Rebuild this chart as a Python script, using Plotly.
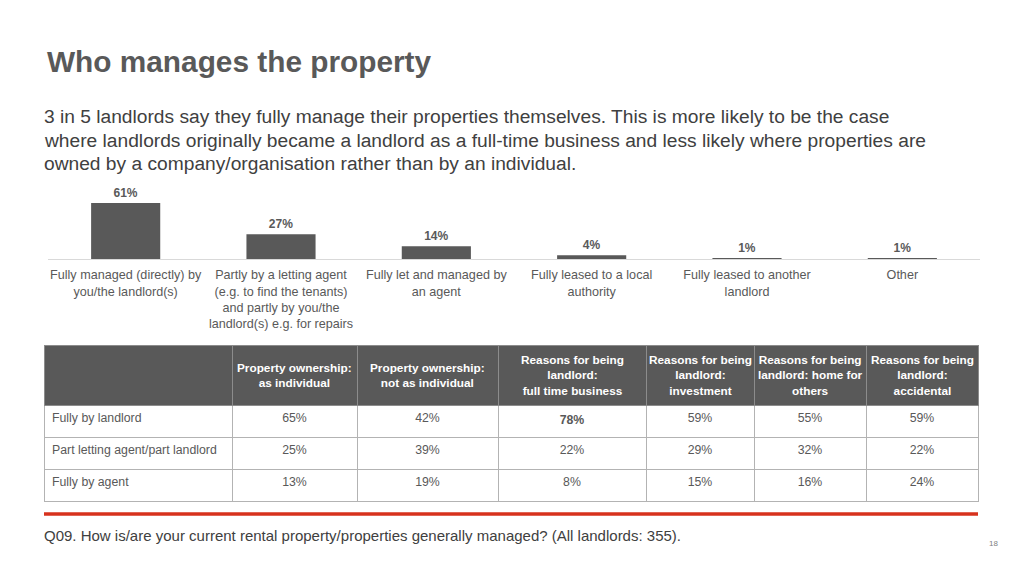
import plotly.graph_objects as go

# ---------------- data ----------------
categories = [
    "Fully managed (directly) by<br>you/the landlord(s)",
    "Partly by a letting agent<br>(e.g. to find the tenants)<br>and partly by you/the<br>landlord(s) e.g. for repairs",
    "Fully let and managed by<br>an agent",
    "Fully leased to a local<br>authority",
    "Fully leased to another<br>landlord",
    "Other",
]
values = [61, 27, 14, 4, 1, 1]

table_columns = [
    "",
    "Property ownership:<br>as individual",
    "Property ownership:<br>not as individual",
    "Reasons for being<br>landlord:<br>full time business",
    "Reasons for being<br>landlord:<br>investment",
    "Reasons for being<br>landlord: home for<br>others",
    "Reasons for being<br>landlord:<br>accidental",
]
table_rows = ["Fully by landlord", "Part letting agent/part landlord", "Fully by agent"]
own_individual = [65, 25, 13]
own_not_individual = [42, 39, 19]
reason_full_time = [78, 22, 8]
reason_investment = [59, 29, 15]
reason_home_others = [55, 32, 16]
reason_accidental = [59, 22, 24]
highlight = (3, 0)  # (column index, row index) shown in bold

title = "Who manages the property"
subtitle_lines = [
    "3 in 5 landlords say they fully manage their properties themselves. This is more likely to be the case",
    "where landlords originally became a landlord as a full-time business and less likely where properties are",
    "owned by a company/organisation rather than by an individual.",
]
footnote = "Q09. How is/are your current rental property/properties generally managed? (All landlords: 355)."
page_no = "18"

# ---------------- styling ----------------
OFF = 8                       # page body margin
W, H = 1024 - 2 * OFF, 576 - 2 * OFF
GREY = "#595959"
TXT = "#404040"
FONT = "Liberation Sans, Arial, Helvetica, sans-serif"

def px(x):
    return (x - OFF) / W

def py(y):
    return 1 - (y - OFF) / H

fig = go.Figure()

fig.add_trace(go.Bar(
    x=categories, y=values,
    marker=dict(color=GREY, line=dict(width=0)),
    texttemplate="<b>%{y}%</b>", textposition="outside",
    textfont=dict(family=FONT, size=12, color=GREY),
    cliponaxis=False, hoverinfo="skip",
))

# table
col_widths = [188, 125, 141, 148, 108, 112, 112]
tbl_x0, tbl_x1 = 44, 978
tbl_top, hdr_h, row_h = 345, 60, 32
data_cols = [own_individual, own_not_individual, reason_full_time,
             reason_investment, reason_home_others, reason_accidental]
cell_values = [table_rows]
for ci, col in enumerate(data_cols, start=1):
    strs = []
    for ri, v in enumerate(col):
        s = f"{v}%"
        if (ci, ri) == highlight:
            s = f"<b>{s}</b>"
        strs.append(s)
    cell_values.append(strs)

fig.add_trace(go.Table(
    domain=dict(x=[px(tbl_x0), px(tbl_x1)],
                y=[py(tbl_top + hdr_h + 3 * row_h + 1), py(tbl_top)]),
    columnwidth=col_widths,
    header=dict(
        values=[""] * len(table_columns),
        fill_color=GREY, line=dict(color="#8c8c8c", width=1),
        font=dict(family=FONT, size=12, color="white"),
        align="center", height=hdr_h,
    ),
    cells=dict(
        values=cell_values,
        fill_color="white", line=dict(color="#b3b3b3", width=1),
        font=dict(family=FONT, size=12.3, color=GREY),
        align=["left"] + ["center"] * 6, height=row_h,
    ),
))

# header labels, centred in each header cell
scale = (tbl_x1 - tbl_x0) / sum(col_widths)
left = tbl_x0
for w, lab in zip(col_widths, table_columns):
    cx = left + w * scale / 2
    left += w * scale
    if not lab:
        continue
    fig.add_annotation(
        text="<br>".join(f"<b>{part}</b>" for part in lab.split("<br>")),
        x=px(cx), y=py(tbl_top + hdr_h / 2), xref="paper", yref="paper",
        xanchor="center", yanchor="middle", showarrow=False, align="center",
        font=dict(family=FONT, size=11.8, color="white"))

fig.update_layout(
    width=W, height=H,
    margin=dict(l=0, r=0, t=0, b=0),
    paper_bgcolor="white", plot_bgcolor="white",
    showlegend=False,
    bargap=0.555,
    font=dict(family=FONT, color=GREY),
    xaxis=dict(
        domain=[px(48), px(980)],
        showline=True, linecolor="#d9d9d9", linewidth=1,
        ticks="", ticklabelstandoff=4,
        tickfont=dict(family=FONT, size=12.6, color=GREY),
        fixedrange=True,
    ),
    yaxis=dict(
        domain=[py(259), py(180)], range=[0, 86],
        visible=False, showgrid=False, zeroline=False, fixedrange=True,
    ),
)

fig.add_annotation(text=f"<b>{title}</b>", x=px(45), y=py(62), xref="paper", yref="paper",
                   xanchor="left", yanchor="middle", showarrow=False,
                   font=dict(family=FONT, size=29.8, color=GREY))
for i, line in enumerate(subtitle_lines):
    fig.add_annotation(text=line, x=px(42), y=py(117 + 23 * i), xref="paper", yref="paper",
                       xanchor="left", yanchor="middle", showarrow=False, align="left",
                       font=dict(family=FONT, size=19.2, color=TXT))
fig.add_annotation(text=footnote, x=px(42), y=py(535), xref="paper", yref="paper",
                   xanchor="left", yanchor="middle", showarrow=False,
                   font=dict(family=FONT, size=15, color=TXT))
fig.add_annotation(text=page_no, x=px(993), y=py(543), xref="paper", yref="paper",
                   xanchor="center", yanchor="middle", showarrow=False,
                   font=dict(family=FONT, size=8, color="#7f7f7f"))

fig.add_shape(type="line", xref="paper", yref="paper",
              x0=px(44), x1=px(978), y0=py(514), y1=py(514),
              line=dict(color="#d7321d", width=3.5))

fig.write_html("out.html")
